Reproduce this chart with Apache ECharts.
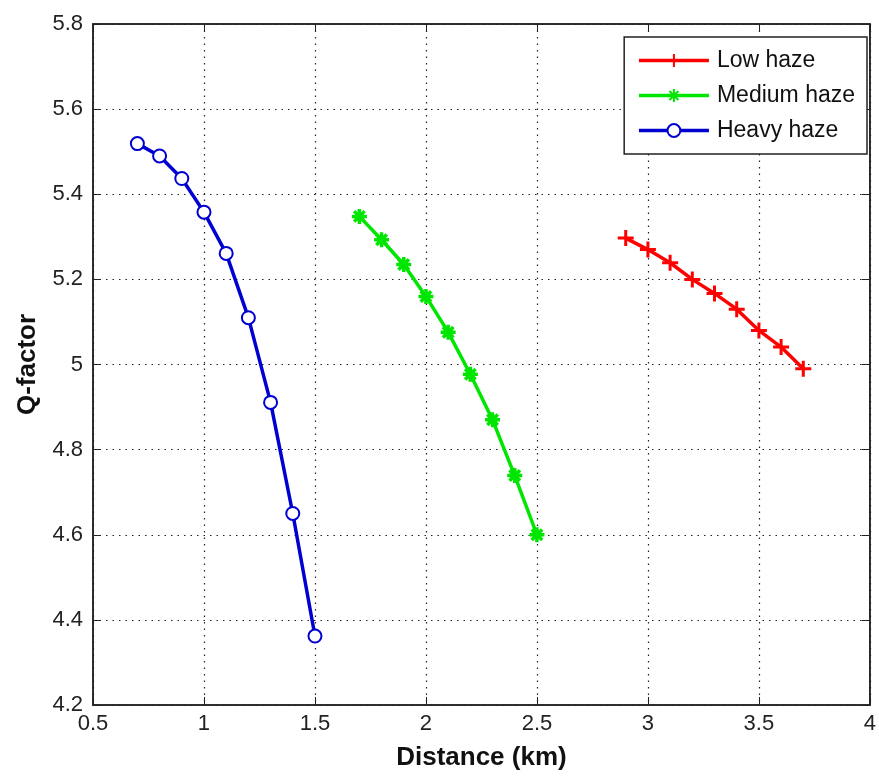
<!DOCTYPE html>
<html><head><meta charset="utf-8">
<script src="https://cdn.jsdelivr.net/npm/echarts@6/dist/echarts.min.js"></script>
<style>html,body{margin:0;padding:0;background:#fff}#c{width:879px;height:776px}</style>
</head><body><div id="c"></div>
<script>
const lowX = [2.9, 3.0, 3.1, 3.2, 3.3, 3.4, 3.5, 3.6, 3.7];
const lowY = [5.297, 5.27, 5.239, 5.20, 5.167, 5.13, 5.08, 5.041, 4.99];
const medX = [1.7, 1.8, 1.9, 2.0, 2.1, 2.2, 2.3, 2.4, 2.5];
const medY = [5.348, 5.293, 5.235, 5.16, 5.076, 4.977, 4.87, 4.739, 4.60];
const heavyX = [0.7, 0.8, 0.9, 1.0, 1.1, 1.2, 1.3, 1.4, 1.5];
const heavyY = [5.519, 5.49, 5.437, 5.358, 5.261, 5.11, 4.911, 4.65, 4.362];
const seriesNames = ['Low haze', 'Medium haze', 'Heavy haze'];
const xTitle = 'Distance (km)';
const yTitle = 'Q-factor';

const zip = (xs, ys) => xs.map((x, i) => [x, ys[i]]);
const font = 'Liberation Sans, Arial, sans-serif';
const plusPath = 'path://M5,0L5,10M0,5L10,5';
const starPath = 'path://M5,0L5,10M0,5L10,5M1.5,1.5L8.5,8.5M8.5,1.5L1.5,8.5';

const chart = echarts.init(document.getElementById('c'));
const gridLine = {show: true, lineStyle: {color: '#222', type: [1.5, 5], width: 1.2}};
const tickStyle = {show: true, inside: true, length: 8, lineStyle: {color: '#222'}};
chart.setOption({
  animation: false,
  backgroundColor: '#fff',
  grid: {left: 93, right: 2, top: 24, bottom: 70, show: true, borderColor: '#222', borderWidth: 1.5},
  legend: {
    right: 12, top: 37, orient: 'vertical', align: 'left',
    backgroundColor: '#fff', borderColor: '#222', borderWidth: 1.5,
    padding: [11, 12, 11, 13], itemGap: 10, itemWidth: 70, itemHeight: 16,
    lineStyle: {width: 3.5},
    textStyle: {fontFamily: font, fontSize: 23, lineHeight: 25, color: '#111', padding: [0, 0, 0, 3]},
    data: seriesNames
  },
  xAxis: [{
    type: 'value', min: 0.5, max: 4, interval: 0.5,
    name: xTitle, nameLocation: 'middle', nameGap: 40,
    nameTextStyle: {fontFamily: font, fontSize: 26, fontWeight: 'bold', color: '#111'},
    axisLine: {show: true, onZero: false, lineStyle: {color: '#222', width: 1.5}},
    axisTick: tickStyle,
    axisLabel: {fontFamily: font, fontSize: 22, color: '#222', margin: 8},
    splitLine: gridLine
  }, {
    type: 'value', min: 0.5, max: 4, interval: 0.5, position: 'top',
    axisLine: {show: true, lineStyle: {color: '#222', width: 1.5}},
    axisTick: tickStyle,
    axisLabel: {show: false}, splitLine: {show: false}
  }],
  yAxis: [{
    type: 'value', min: 4.2, max: 5.8, interval: 0.2,
    name: yTitle, nameLocation: 'middle', nameGap: 52, nameRotate: 90,
    nameTextStyle: {fontFamily: font, fontSize: 26, fontWeight: 'bold', color: '#111'},
    axisLine: {show: true, onZero: false, lineStyle: {color: '#222', width: 1.5}},
    axisTick: tickStyle,
    axisLabel: {fontFamily: font, fontSize: 22, color: '#222', margin: 10,
      formatter: v => String(Math.round(v * 10) / 10)},
    splitLine: gridLine
  }, {
    type: 'value', min: 4.2, max: 5.8, interval: 0.2, position: 'right',
    axisLine: {show: true, lineStyle: {color: '#222', width: 1.5}},
    axisTick: tickStyle,
    axisLabel: {show: false}, splitLine: {show: false}
  }],
  series: [{
    name: seriesNames[0], type: 'line', data: zip(lowX, lowY),
    symbol: plusPath, symbolSize: 16,
    lineStyle: {color: '#ff0000', width: 3.5},
    itemStyle: {color: '#ff0000', borderColor: '#ff0000', borderWidth: 3}
  }, {
    name: seriesNames[1], type: 'line', data: zip(medX, medY),
    symbol: starPath, symbolSize: 15,
    lineStyle: {color: '#00e600', width: 3.5},
    itemStyle: {color: '#00e600', borderColor: '#00e600', borderWidth: 3.5}
  }, {
    name: seriesNames[2], type: 'line', data: zip(heavyX, heavyY),
    symbol: 'emptyCircle', symbolSize: 13,
    lineStyle: {color: '#0000d0', width: 3.5},
    itemStyle: {color: '#0000d0', borderColor: '#0000d0', borderWidth: 3}
  }]
});
</script></body></html>
